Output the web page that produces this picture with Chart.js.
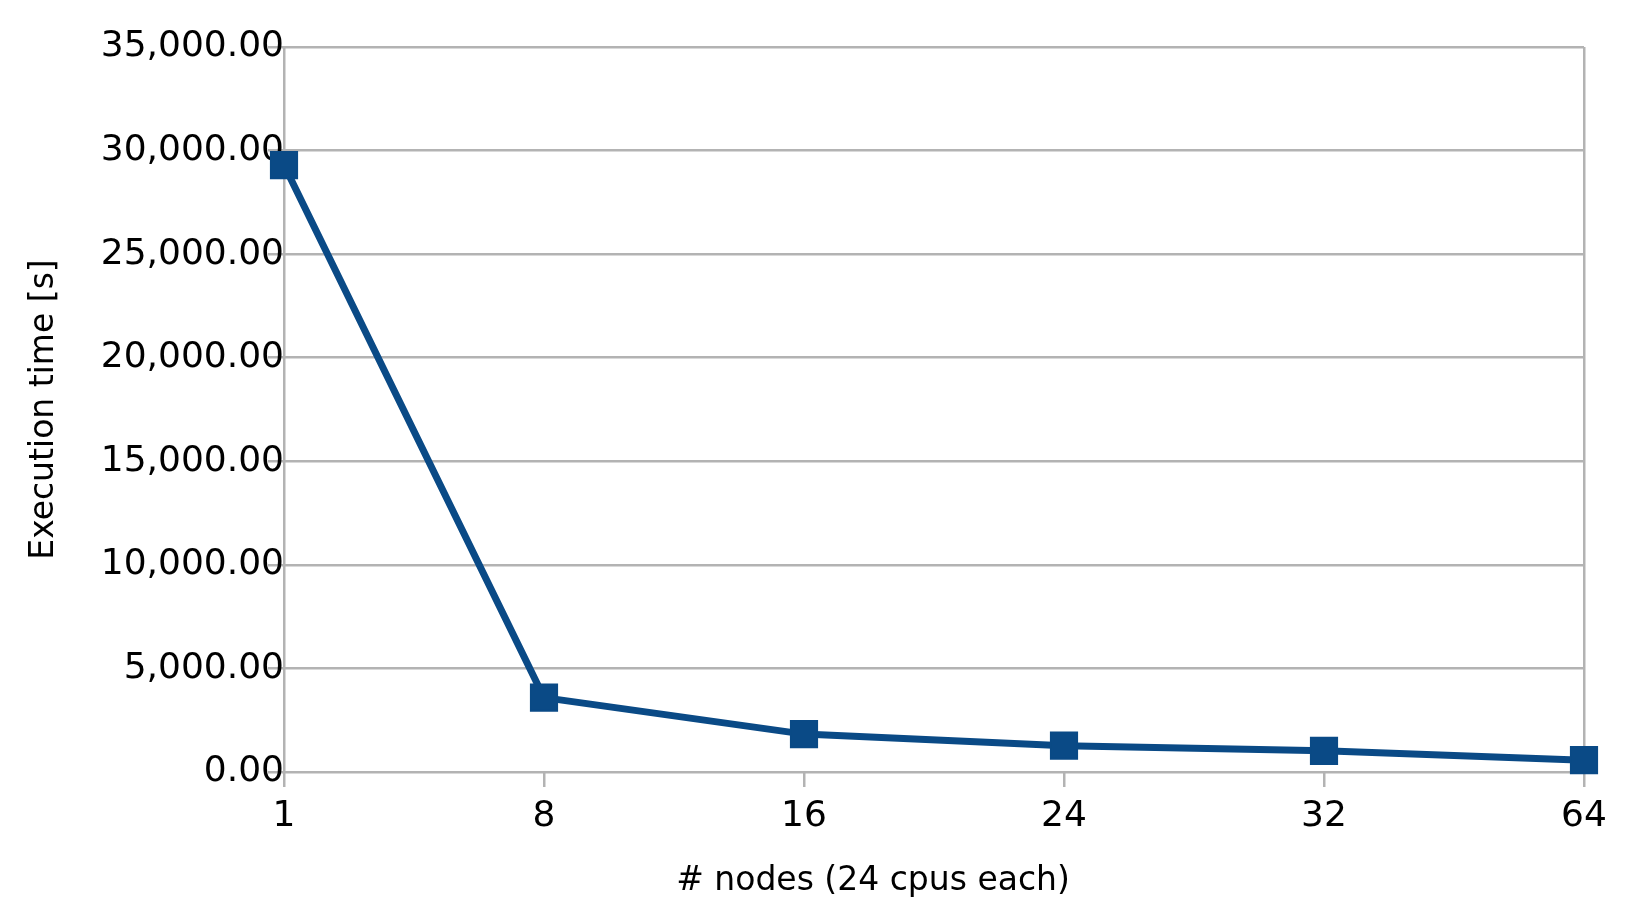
<!DOCTYPE html>
<html>
<head>
<meta charset="utf-8">
<script src="https://cdn.jsdelivr.net/npm/chart.js@4/dist/chart.umd.min.js"></script>
<style>
  body { margin: 0; background: #fff; }
  #wrap { width: 1648px; height: 906px; position: relative; }
</style>
</head>
<body>
<div id="wrap"><canvas id="myChart"></canvas></div>
<script>
// nodes on x, execution time in seconds on y
var nodes = ['1', '8', '16', '24', '32', '64'];
var execTime = [29300, 3590, 1830, 1270, 1020, 570];
var yTicks = [0, 5000, 10000, 15000, 20000, 25000, 30000, 35000];
var yTitle = 'Execution time [s]';
var xTitle = '# nodes (24 cpus each)';

var lineColor = '#0a4a86';
var gridColor = '#b3b3b3';
var fontFamily = '"DejaVu Sans", "Liberation Sans", sans-serif';

// x axis title sits a bit left of the plot centre in the original
var xTitlePlugin = {
  id: 'xTitle',
  afterDraw: function(chart) {
    var ctx = chart.ctx;
    ctx.save();
    ctx.font = '33px ' + fontFamily;
    ctx.fillStyle = '#000';
    ctx.textAlign = 'center';
    ctx.textBaseline = 'middle';
    ctx.fillText(xTitle, 873, 881);
    ctx.restore();
  }
};

var ctx = document.getElementById('myChart').getContext('2d');
var chart = new Chart(ctx, {
  type: 'line',
  data: {
    labels: nodes,
    datasets: [{
      data: execTime,
      borderColor: lineColor,
      backgroundColor: lineColor,
      borderWidth: 7,
      pointStyle: 'rect',
      pointRadius: 18.5,
      pointHoverRadius: 18.5,
      pointBorderWidth: 2,
      pointBackgroundColor: lineColor,
      pointBorderColor: lineColor,
      tension: 0,
      clip: false
    }]
  },
  plugins: [xTitlePlugin],
  options: {
    responsive: true,
    maintainAspectRatio: false,
    animation: false,
    layout: { padding: { top: 47, right: 64, bottom: 0, left: 0 } },
    plugins: {
      legend: { display: false },
      tooltip: { enabled: false }
    },
    scales: {
      x: {
        offset: false,
        border: { display: false },
        grid: {
          lineWidth: 2.5,
          tickLength: 15,
          tickColor: gridColor,
          color: function(c) {
            return (c.index === 0 || c.index === nodes.length - 1) ? gridColor : 'rgba(0,0,0,0)';
          }
        },
        ticks: {
          color: '#000',
          padding: 8,
          maxRotation: 0,
          font: { family: fontFamily, size: 36 }
        },
        afterFit: function(scale) { scale.height = 134; }
      },
      y: {
        min: 0,
        max: 35000,
        border: { display: false },
        grid: {
          lineWidth: 2.5,
          tickLength: 16,
          color: gridColor
        },
        afterBuildTicks: function(scale) {
          scale.ticks = yTicks.map(function(v) { return { value: v }; });
        },
        ticks: {
          color: '#000',
          padding: -16,
          font: { family: fontFamily, size: 36 },
          callback: function(v) {
            return Number(v).toLocaleString('en-US', { minimumFractionDigits: 2, maximumFractionDigits: 2 });
          }
        },
        title: {
          display: true,
          text: yTitle,
          color: '#000',
          padding: { top: 25, bottom: 0 },
          font: { family: fontFamily, size: 33 }
        },
        afterFit: function(scale) { scale.width = 284; }
      }
    }
  }
});
</script>
</body>
</html>
